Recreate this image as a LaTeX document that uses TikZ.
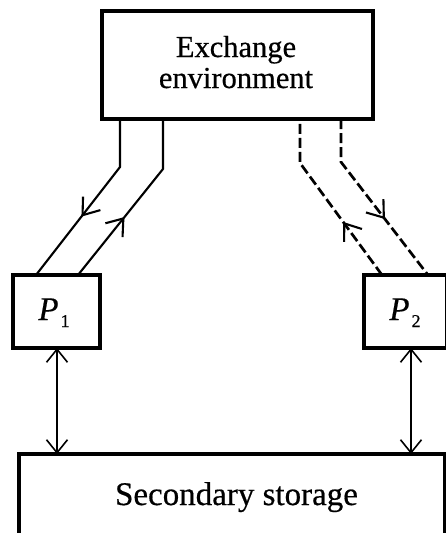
\documentclass[tikz,border=0pt]{standalone}
\usepackage{fontspec}
\setmainfont{Liberation Serif}[FakeBold=0.5]
\usetikzlibrary{arrows.meta,decorations.markings}
\begin{document}
\begin{tikzpicture}[x=1pt,y=-1pt]
\tikzset{
  frame/.style={draw, line width=3.1pt, rectangle, inner sep=0pt, outer sep=0pt},
  txt/.style={anchor=base, inner sep=0pt},
  flow/.style={line width=2.1pt},
  dflow/.style={line width=2.7pt, dash pattern=on 10pt off 4pt},
  midarrow/.style={postaction={decorate},
    decoration={markings, mark=at position #1 with
      {\draw[solid, line width=2.1pt, line join=miter]
        (-15pt,11pt) -- (0pt,0pt) -- (-15pt,-11pt);}}},
  link/.style={line width=1.6pt,
    {Straight Barb[length=13pt,width=21pt]}-{Straight Barb[length=13pt,width=21pt]}}
}
\useasboundingbox (0,0) rectangle (446,533);

% boxes
\node[frame, minimum width=271pt, minimum height=108pt] (ex) at (237.5,65) {};
\node[frame, minimum width=87pt, minimum height=73pt] (p1) at (56.5,311.5) {};
\node[frame, minimum width=83pt, minimum height=73pt] (p2) at (405.5,311.5) {};
\node[frame, minimum width=426pt, minimum height=82pt] (st) at (232,495) {};

% labels
\node[txt, font=\fontsize{30.5}{31}\selectfont] (ex1) at (236,57) {Exchange};
\node[txt, font=\fontsize{30.5}{31}\selectfont] (ex2) at (236,88) {environment};
\node[txt, font=\fontsize{33}{34}\selectfont] (st1) at (236.5,505) {Secondary storage};
\node[txt, font=\fontsize{33}{34}\selectfont] (p1t) at (54,320)
  {\textit{P}\kern2pt\raisebox{-7pt}{\fontsize{18}{18}\selectfont 1}};
\node[txt, font=\fontsize{33}{34}\selectfont] (p2t) at (405,320)
  {\textit{P}\kern2pt\raisebox{-7pt}{\fontsize{18}{18}\selectfont 2}};

% solid channels between the exchange environment and P1
\draw[flow, midarrow=0.59] ([xshift=18pt]ex.south west) -- ++(0,48)
  -- ([xshift=23pt]p1.north west);
\draw[flow, midarrow=0.39] ([xshift=65pt]p1.north west) -- ++(85,-106)
  -- ([xshift=61pt]ex.south west);

% dashed channels between the exchange environment and P2
\draw[dflow, midarrow=0.35] ([xshift=18pt]p2.north west) -- ++(-82,-112)
  -- ([xshift=198pt]ex.south west);
\draw[dflow, midarrow=0.61] ([xshift=239pt]ex.south west) -- ++(0,43)
  -- ([xshift=64pt]p2.north west);

% links to secondary storage
\draw[link] ([xshift=44pt]p1.south west) -- ([xshift=38pt]st.north west);
\draw[link] ([xshift=47pt]p2.south west) -- ([xshift=392pt]st.north west);
\end{tikzpicture}
\end{document}
